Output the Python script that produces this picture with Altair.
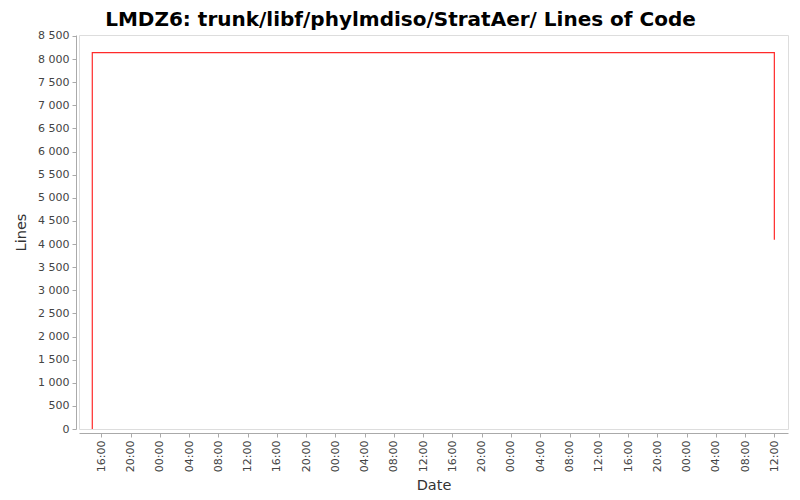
import altair as alt
import pandas as pd

# data
dates = ["2020-01-06T14:46:00", "2020-01-06T14:46:00", "2020-01-10T12:00:00", "2020-01-10T12:00:00"]
lines = [0, 8140, 8140, 4090]
order = [0, 1, 2, 3]

tick_hours = list(range(16, 16 + 24 * 4, 4))  # hour offsets from 2020-01-06 00:00

df = pd.DataFrame({"date": dates, "lines": lines, "order": order})

tick_values = []
for h in tick_hours:
    d = 6 + h // 24
    tick_values.append(alt.DateTime(year=2020, month=1, date=d, hours=h % 24, minutes=0))

font = "DejaVu Sans"

chart = alt.Chart(df).mark_line(color="#ff2a2a", strokeWidth=1.2, clip=True).encode(
    x=alt.X(
        "date:T",
        title="Date",
        scale=alt.Scale(domain=[
            alt.DateTime(year=2020, month=1, date=6, hours=12, minutes=57),
            alt.DateTime(year=2020, month=1, date=10, hours=13, minutes=52),
        ]),
        axis=alt.Axis(
            values=tick_values,
            labelExpr="timeFormat(datum.value, '%H:%M')",
            labelAngle=-90,
            labelAlign="right",
            labelBaseline="middle",
            labelFont=font,
            labelFontSize=11,
            labelColor="#444444",
            titleFont=font,
            titleFontSize=14.5,
            titleFontWeight="normal",
            titleColor="#333333",
            grid=False,
            domainColor="#aaaaaa",
            tickColor="#aaaaaa",
            tickSize=4,
            offset=4,
            labelPadding=3,
            titlePadding=7,
        ),
    ),
    y=alt.Y(
        "lines:Q",
        title="Lines",
        scale=alt.Scale(domain=[0, 8520], nice=False),
        axis=alt.Axis(
            values=list(range(0, 8501, 500)),
            labelExpr="replace(format(datum.value, ','), ',', ' ')",
            labelFont=font,
            labelFontSize=11,
            labelColor="#444444",
            titleFont=font,
            titleFontSize=14.5,
            titleFontWeight="normal",
            titleColor="#333333",
            grid=False,
            domainColor="#aaaaaa",
            tickColor="#aaaaaa",
            tickSize=4,
            offset=3,
            labelPadding=3,
            titlePadding=9,
        ),
    ),
    order="order:Q",
).properties(
    width=709,
    height=394,
    autosize=alt.AutoSizeParams(type="none"),
    padding={"left": 71, "top": 27, "right": 4, "bottom": 63},
    title=alt.TitleParams(
        "LMDZ6: trunk/libf/phylmdiso/StratAer/ Lines of Code",
        font=font,
        fontSize=20,
        fontWeight="bold",
        color="#000000",
        anchor="middle",
        dx=-33,
        offset=0,
    ),
).configure_view(
    stroke="#888888",
    strokeWidth=1,
).configure(background="white")

chart.save("out.html", embed_options={"renderer": "svg", "actions": False})
